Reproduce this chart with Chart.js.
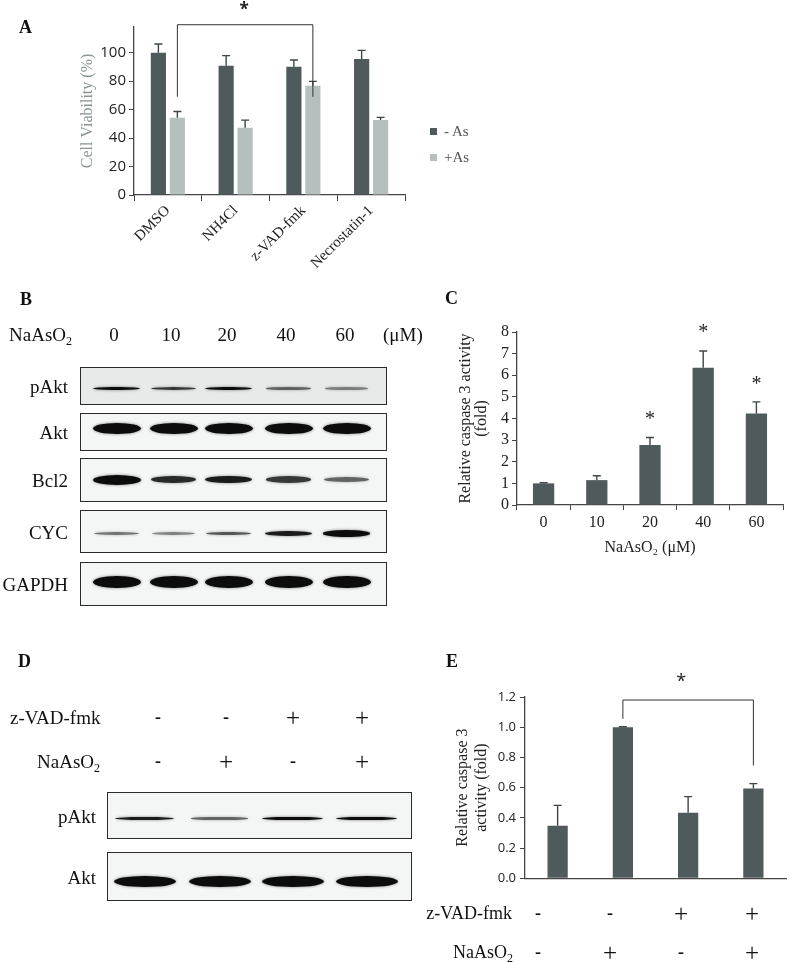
<!DOCTYPE html>
<html>
<head>
<meta charset="utf-8">
<script src="https://cdn.jsdelivr.net/npm/chart.js@4.4.0/dist/chart.umd.min.js"></script>
<style>
body { margin: 0; background: #fff; }
#fig { position: relative; width: 790px; height: 962px; overflow: hidden; font-family: "Liberation Serif", "Times New Roman", serif; color: #111; }
.t { position: absolute; white-space: nowrap; line-height: 1; font-size: 18px; filter: grayscale(1); }
.t sub { font-size: 12px; vertical-align: -4px; line-height: 0; }
.big { font-size: 19px; }
.letter { font-weight: bold; font-size: 18px; }
.dash { font-weight: bold; font-size: 18px; }
.plus { font-size: 25px; }
canvas { position: absolute; }
.box { position: absolute; border: 1.5px solid #2b2b2b; background: #f4f5f5; box-sizing: border-box; overflow: hidden; }
.band { position: absolute; border-radius: 50%; filter: blur(0.7px); }
.key { position: absolute; width: 7px; height: 7px; }
</style>
</head>
<body>
<div id="fig">
  <canvas id="chartA" width="420" height="280" style="left:0;top:0"></canvas>
  <canvas id="chartC" width="370" height="260" style="left:420px;top:300px"></canvas>
  <canvas id="chartE" width="370" height="240" style="left:420px;top:650px"></canvas>
</div>
<script>
// ---- A: cell viability
const treatA = ['DMSO', 'NH4Cl', 'z-VAD-fmk', 'Necrostatin-1'];
const minusAs = [100, 90.8, 90.1, 95.5];
const minusAsErr = [106.1, 97.9, 94.8, 101.6];
const plusAs = [54.2, 47.2, 76.8, 52.6];
const plusAsErr = [58.7, 52.6, 79.8, 54.5];

// ---- C: caspase 3 vs dose
const doseC = ['0', '10', '20', '40', '60'];
const caspC = [1.0, 1.15, 2.77, 6.35, 4.23];
const caspCErr = [1.03, 1.35, 3.12, 7.12, 4.77];
const starC = [null, null, 3.95, 7.95, 5.55];

// ---- E: caspase 3 with z-VAD-fmk
const groupE = ['1', '2', '3', '4'];
const zvadE = ['-', '-', '+', '+'];
const arsE = ['-', '+', '-', '+'];
const caspE = [0.347, 1.0, 0.433, 0.594];
const caspEErr = [0.482, 1.003, 0.54, 0.626];

// ---- B: western blot (band intensity 0..1)
const doseB = ['0', '10', '20', '40', '60'];
const pAktB = [0.8, 0.65, 0.8, 0.5, 0.4];
const aktB = [1, 1, 1, 1, 1];
const bcl2B = [1, 0.7, 0.75, 0.65, 0.5];
const cycB = [0.45, 0.4, 0.55, 0.75, 0.95];
const gapdhB = [1, 1, 1, 1, 1];

// ---- D: western blot
const zvadD = ['-', '-', '+', '+'];
const arsD = ['-', '+', '-', '+'];
const pAktD = [0.75, 0.5, 0.85, 0.85];
const aktD = [1, 1, 1, 1];

const dark = '#4e5a5b';
const light = '#b5bfbe';
const serif = '"Liberation Serif", "Times New Roman", serif';
const sans = '"Open Sans", "Liberation Sans", sans-serif';

const fig = document.getElementById('fig');

function label(html, x, y, cls, align) {
    const d = document.createElement('div');
    d.className = 't ' + (cls || '');
    d.innerHTML = html;
    d.style.left = x + 'px';
    d.style.top = y + 'px';
    const tx = align === 'right' ? '-100%' : align === 'center' ? '-50%' : '0';
    d.style.transform = 'translate(' + tx + ', -50%)';
    fig.appendChild(d);
    return d;
}

function box(left, top, w, h, bg) {
    const b = document.createElement('div');
    b.className = 'box';
    b.style.left = left + 'px';
    b.style.top = top + 'px';
    b.style.width = w + 'px';
    b.style.height = h + 'px';
    if (bg) b.style.background = bg;
    fig.appendChild(b);
    return b;
}

// one band per lane, drawn inside the box
function bands(b, boxLeft, boxTop, lanes, cy, maxH, laneW, values) {
    values.forEach(function(v, i) {
        const h = Math.max(2.5, maxH * v);
        const w = laneW * (0.85 + 0.15 * v);
        const a = Math.min(1, 1.25 * v);
        const e = document.createElement('div');
        e.className = 'band';
        e.style.left = (lanes[i] - w / 2 - boxLeft) + 'px';
        e.style.top = (cy - h / 2 - boxTop) + 'px';
        e.style.width = w + 'px';
        e.style.height = h + 'px';
        e.style.background = 'rgba(12,12,12,' + a + ')';
        e.style.boxShadow = '0 0 3px rgba(0,0,0,' + (a * 0.5) + ')';
        b.appendChild(e);
    });
}

// ---- plugins
const errorBars = {
    id: 'errorBars',
    afterDatasetsDraw(chart, args, o) {
        const ctx = chart.ctx;
        const y = chart.scales.y;
        chart.data.datasets.forEach(function(ds, i) {
            if (!ds.errTop) return;
            chart.getDatasetMeta(i).data.forEach(function(bar, j) {
                const top = y.getPixelForValue(ds.errTop[j]);
                ctx.save();
                ctx.strokeStyle = o.color || '#3d4646';
                ctx.lineWidth = 1.4;
                ctx.beginPath();
                ctx.moveTo(bar.x, bar.y);
                ctx.lineTo(bar.x, top);
                ctx.moveTo(bar.x - (o.cap || 4), top);
                ctx.lineTo(bar.x + (o.cap || 4), top);
                ctx.stroke();
                ctx.restore();
            });
        });
    }
};

const bracket = {
    id: 'bracket',
    afterDraw(chart, args, o) {
        if (!o.from) return;
        const ctx = chart.ctx;
        const y = chart.scales.y;
        const x1 = chart.getDatasetMeta(o.from[0]).data[o.from[1]].x;
        const x2 = chart.getDatasetMeta(o.to[0]).data[o.to[1]].x;
        const yt = y.getPixelForValue(o.top);
        ctx.save();
        ctx.strokeStyle = '#333';
        ctx.lineWidth = 1;
        ctx.beginPath();
        ctx.moveTo(x1, y.getPixelForValue(o.leftEnd));
        ctx.lineTo(x1, yt);
        ctx.lineTo(x2, yt);
        ctx.lineTo(x2, y.getPixelForValue(o.rightEnd));
        ctx.stroke();
        ctx.fillStyle = '#222';
        ctx.font = o.font;
        ctx.textAlign = 'center';
        ctx.textBaseline = 'middle';
        ctx.fillText('*', (x1 + x2) / 2 + (o.dx || 0), y.getPixelForValue(o.star));
        ctx.restore();
    }
};

const stars = {
    id: 'stars',
    afterDraw(chart, args, o) {
        if (!o.at) return;
        const ctx = chart.ctx;
        const y = chart.scales.y;
        ctx.save();
        ctx.fillStyle = '#222';
        ctx.font = o.font;
        ctx.textAlign = 'center';
        ctx.textBaseline = 'middle';
        chart.getDatasetMeta(0).data.forEach(function(bar, i) {
            if (o.at[i] == null) return;
            ctx.fillText('*', bar.x, y.getPixelForValue(o.at[i]));
        });
        ctx.restore();
    }
};

function fixW(w) { return function(s) { s.width = w; }; }
function fixH(h) { return function(s) { s.height = h; }; }

// ---- chart A
new Chart(document.getElementById('chartA'), {
    type: 'bar',
    data: {
        labels: treatA,
        datasets: [
            { label: '- As', data: minusAs, errTop: minusAsErr, backgroundColor: dark, categoryPercentage: 0.56, barPercentage: 0.8 },
            { label: '+As', data: plusAs, errTop: plusAsErr, backgroundColor: light, categoryPercentage: 0.56, barPercentage: 0.8 }
        ]
    },
    plugins: [errorBars, bracket],
    options: {
        responsive: false,
        animation: false,
        devicePixelRatio: 1,
        layout: { padding: { top: 27, right: 15, left: 0, bottom: 0 } },
        plugins: {
            legend: { display: false },
            tooltip: { enabled: false },
            errorBars: { cap: 4 },
            bracket: { from: [1, 0], to: [1, 2], top: 119.6, leftEnd: 69, rightEnd: 69, star: 130, dx: -1, font: 'bold 17px ' + sans }
        },
        scales: {
            x: {
                afterFit: fixH(85),
                offset: true,
                grid: { offset: true, drawOnChartArea: false, tickLength: 6, color: '#444' },
                border: { color: '#444', width: 1.3 },
                ticks: { font: { family: serif, size: 15 }, color: '#222', minRotation: 45, maxRotation: 45, padding: 1 }
            },
            y: {
                afterFit: fixW(134),
                min: 0, max: 118,
                grid: { drawOnChartArea: false, tickLength: 5, color: '#444' },
                border: { color: '#444', width: 1.3 },
                ticks: { stepSize: 20, includeBounds: false, font: { family: sans, size: 15 }, color: '#222', padding: 3 },
                title: { display: true, text: 'Cell Viability (%)', color: '#8a9595', font: { family: serif, size: 16 }, padding: { top: 78, bottom: 0 } }
            }
        }
    }
});

// ---- chart C
new Chart(document.getElementById('chartC'), {
    type: 'bar',
    data: {
        labels: doseC,
        datasets: [{ data: caspC, errTop: caspCErr, backgroundColor: dark, categoryPercentage: 1, barPercentage: 0.4 }]
    },
    plugins: [errorBars, stars],
    options: {
        responsive: false,
        animation: false,
        devicePixelRatio: 1,
        layout: { padding: { top: 32, right: 7, left: 0, bottom: 0 } },
        plugins: {
            legend: { display: false },
            tooltip: { enabled: false },
            errorBars: { cap: 4 },
            stars: { at: starC, font: '20px ' + serif }
        },
        scales: {
            x: {
                afterFit: fixH(55),
                offset: true,
                grid: { offset: true, drawOnChartArea: false, tickLength: 5, color: '#444' },
                border: { color: '#444', width: 1.3 },
                ticks: { font: { family: serif, size: 16 }, color: '#222', padding: 3 },
                title: { display: true, text: 'NaAsO\u2082 (\u03bcM)', color: '#222', font: { family: serif, size: 16 }, padding: { top: 0, bottom: 3 } }
            },
            y: {
                afterFit: fixW(97),
                min: 0, max: 8,
                grid: { drawOnChartArea: false, tickLength: 5, color: '#444' },
                border: { color: '#444', width: 1.3 },
                ticks: { stepSize: 1, autoSkip: false, font: { family: serif, size: 16 }, color: '#222', padding: 3 },
                title: { display: true, text: ['Relative caspase 3 activity', '(fold)'], color: '#222', font: { family: serif, size: 16, lineHeight: 1.05 }, padding: { top: 37, bottom: 0 } }
            }
        }
    }
});

// ---- chart E
new Chart(document.getElementById('chartE'), {
    type: 'bar',
    data: {
        labels: groupE,
        datasets: [{ data: caspE, errTop: caspEErr, backgroundColor: dark, categoryPercentage: 1, barPercentage: 0.31 }]
    },
    plugins: [errorBars, bracket],
    options: {
        responsive: false,
        animation: false,
        devicePixelRatio: 1,
        layout: { padding: { top: 47, right: 4, left: 0, bottom: 0 } },
        plugins: {
            legend: { display: false },
            tooltip: { enabled: false },
            errorBars: { cap: 4 },
            bracket: { from: [0, 1], to: [0, 3], top: 1.18, leftEnd: 1.055, rightEnd: 0.746, star: 1.30, dx: -7, font: '18px ' + sans }
        },
        scales: {
            x: {
                afterFit: fixH(7),
                grid: { display: false },
                border: { color: '#444', width: 1.3 },
                ticks: { display: false }
            },
            y: {
                afterFit: fixW(105),
                min: 0, max: 1.2,
                grid: { drawOnChartArea: false, tickLength: 5, color: '#444' },
                border: { color: '#444', width: 1.3 },
                ticks: { stepSize: 0.2, font: { family: sans, size: 13 }, color: '#222', padding: 4, callback: function(v) { return v.toFixed(1); } },
                title: { display: true, text: ['Relative caspase 3', 'activity (fold)'], color: '#222', font: { family: serif, size: 16, lineHeight: 1.15 }, padding: { top: 34, bottom: 0 } }
            }
        }
    }
});

// ---- text, legend and blots
label('A', 19, 27, 'letter');
label('B', 20, 299, 'letter');
label('C', 445, 298, 'letter');
label('D', 18, 661, 'letter');
label('E', 446, 661, 'letter');

// legend A
[[dark, '- As', 131], [light, '+As', 157]].forEach(function(k) {
    const s = document.createElement('div');
    s.className = 'key';
    s.style.background = k[0];
    s.style.left = '430px';
    s.style.top = (k[2] - 3.5) + 'px';
    fig.appendChild(s);
    label(k[1], 444, k[2], '', 'left').style.cssText += 'font-size:15px;color:#555;';
});

// B header
const lanesB = [117, 174, 229, 289, 347];
const doseXB = [114, 171, 227, 286, 345];
label('NaAsO<sub>2</sub>', 9, 334, 'big');
doseB.forEach(function(d, i) { label(d, doseXB[i], 334, 'big', 'center'); });
label('(\u03bcM)', 383, 334, 'big');

const rowsB = [
    { name: 'pAkt', top: 367, h: 38, cy: 389, maxH: 4.5, data: pAktB, bg: '#e8eaea' },
    { name: 'Akt', top: 413, h: 38, cy: 429, maxH: 11, data: aktB },
    { name: 'Bcl2', top: 458, h: 44, cy: 480, maxH: 10, data: bcl2B },
    { name: 'CYC', top: 510, h: 43, cy: 534, maxH: 7, data: cycB },
    { name: 'GAPDH', top: 562, h: 44, cy: 582, maxH: 12, data: gapdhB }
];
rowsB.forEach(function(r) {
    const b = box(80, r.top, 307, r.h, r.bg);
    bands(b, 81.5, r.top + 1.5, lanesB, r.cy, r.maxH, 48, r.data);
    label(r.name, 68, r.top + r.h / 2, 'big', 'right');
});

// D header
const lanesD = [145, 220, 293, 367];
const signXD = [158, 226, 293, 362];
label('z-VAD-fmk', 10, 717, 'big');
label('NaAsO<sub>2</sub>', 37, 761, 'big');
zvadD.forEach(function(s, i) { label(s, signXD[i], 717, s === '+' ? 'plus' : 'dash', 'center'); });
arsD.forEach(function(s, i) { label(s, signXD[i], 761, s === '+' ? 'plus' : 'dash', 'center'); });

const rowsD = [
    { name: 'pAkt', top: 792, h: 47, cy: 819, maxH: 4.5, data: pAktD },
    { name: 'Akt', top: 852, h: 49, cy: 882, maxH: 11, data: aktD }
];
rowsD.forEach(function(r) {
    const b = box(107, r.top, 305, r.h, r.bg);
    bands(b, 108.5, r.top + 1.5, lanesD, r.cy, r.maxH, 62, r.data);
    label(r.name, 96, r.top + r.h / 2, 'big', 'right');
});

// E rows under the chart
const signXE = [538, 610, 681, 752];
label('z-VAD-fmk', 512, 913, '', 'right');
label('NaAsO<sub>2</sub>', 513, 952, '', 'right');
zvadE.forEach(function(s, i) { label(s, signXE[i], 913, s === '+' ? 'plus' : 'dash', 'center'); });
arsE.forEach(function(s, i) { label(s, signXE[i], 952, s === '+' ? 'plus' : 'dash', 'center'); });
</script>
</body>
</html>
